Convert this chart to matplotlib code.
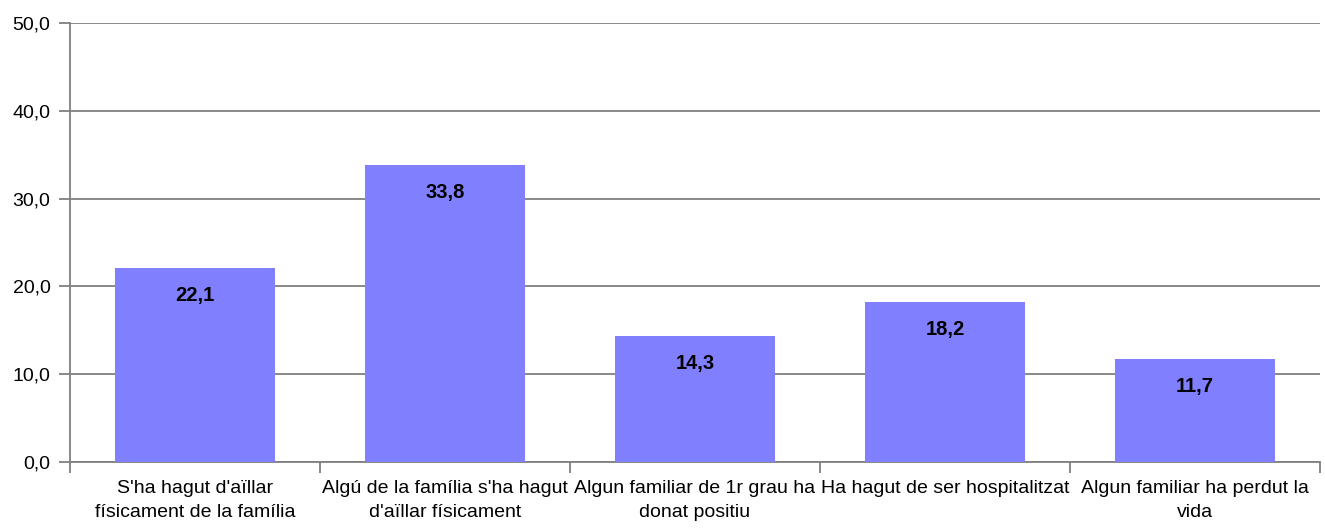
import matplotlib.pyplot as plt
import numpy as np

categories = ["S'ha hagut d'aïllar\nfísicament de la família",
              "Algú de la família s'ha hagut\nd'aïllar físicament",
              "Algun familiar de 1r grau ha\ndonat positiu",
              "Ha hagut de ser hospitalitzat",
              "Algun familiar ha perdut la\nvida"]
values = [22.1, 33.8, 14.3, 18.2, 11.7]
yticks = [0, 10, 20, 30, 40, 50]

plt.rcParams['font.family'] = ['Liberation Sans Narrow', 'Liberation Sans', 'DejaVu Sans']

fig = plt.figure(figsize=(13.25, 5.28), dpi=100)
ax = fig.add_axes([0.0528, 0.125, 0.9434, 0.8314])

x = np.arange(len(categories))
bars = ax.bar(x, values, width=0.64, color='#8080ff', zorder=3)

# value labels inside the top of each bar
for xi, v in zip(x, values):
    ax.text(xi, v - 3.1, f"{v:.1f}".replace('.', ','), ha='center', va='center',
            fontsize=14.5, fontweight='bold', zorder=4)

ax.set_xlim(-0.5, len(categories) - 0.5)
ax.set_ylim(0, 50)
ax.set_yticks(yticks)
ax.set_yticklabels([f"{t:.1f}".replace('.', ',') for t in yticks], fontsize=14)
ax.yaxis.grid(True, color='#808080', linewidth=1.3, zorder=0)

# category labels centred, ticks at boundaries
ax.set_xticks(x)
ax.set_xticklabels(categories, fontsize=14, linespacing=1.5)
ax.tick_params(axis='x', length=0, pad=13)
ax.set_xticks(np.arange(len(categories) + 1) - 0.5, minor=True)
ax.tick_params(axis='x', which='minor', length=8, color='#808080', width=1.3)
ax.tick_params(axis='y', length=8, color='#808080', width=1.3, pad=6)

for s in ['top', 'right']:
    ax.spines[s].set_visible(False)
for s in ['left', 'bottom']:
    ax.spines[s].set_color('#808080')
    ax.spines[s].set_linewidth(1.3)

plt.savefig('out.png', dpi=100)
